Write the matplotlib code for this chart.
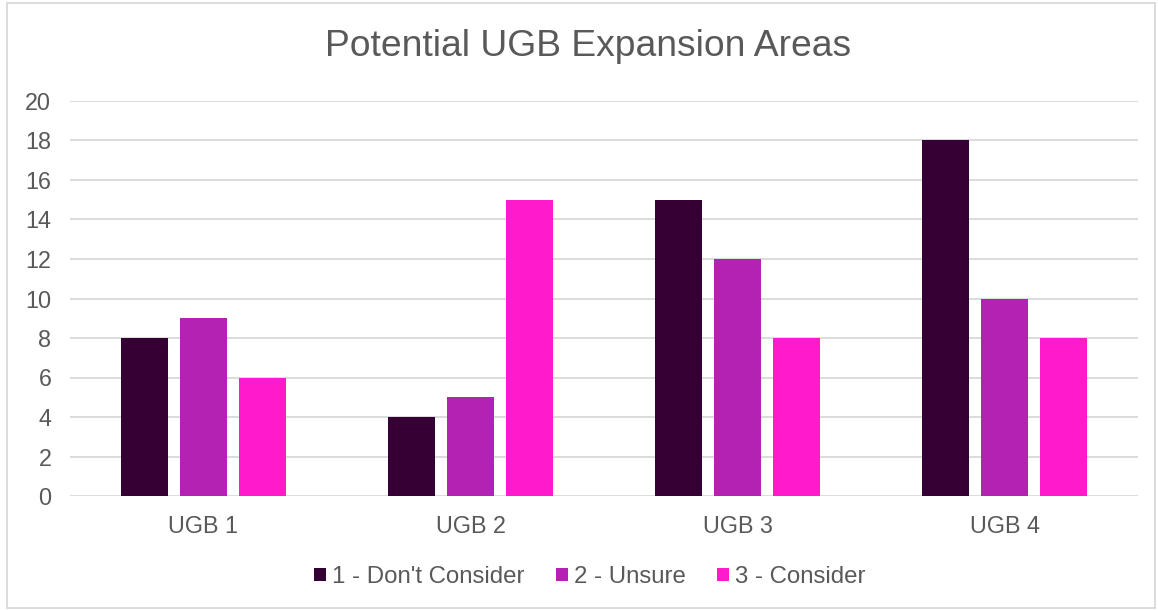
import matplotlib.pyplot as plt
import matplotlib.patches as mpatches
import numpy as np

plt.rcParams['font.family'] = ['Liberation Sans', 'DejaVu Sans']

# data
categories = ['UGB 1', 'UGB 2', 'UGB 3', 'UGB 4']
series_names = ["1 - Don't Consider", '2 - Unsure', '3 - Consider']
dont_consider = [8, 4, 15, 18]
unsure = [9, 5, 12, 10]
consider = [6, 15, 8, 8]
colors = ['#350033', '#B322B3', '#FF1ACB']

text_col = '#595959'

fig = plt.figure(figsize=(11.58, 6.1), dpi=100)
ax = fig.add_axes([70 / 1158, 1 - 496 / 610, (1138 - 70) / 1158, (496 - 101) / 610])

x = np.arange(len(categories))
width = 0.173
step = 0.221
for i, (vals, name) in enumerate(zip([dont_consider, unsure, consider], series_names)):
    ax.bar(x + (i - 1) * step, vals, width, color=colors[i], label=name, zorder=3)

ax.set_xlim(-0.5, len(categories) - 0.5)
ax.set_ylim(0, 20)
ax.set_yticks(range(0, 21, 2))
ax.set_xticks(x)
ax.set_xticklabels(categories)
ax.grid(axis='y', color='#D9D9D9', linewidth=1.3, zorder=0)
for s in ax.spines.values():
    s.set_visible(False)
ax.tick_params(axis='both', length=0, labelsize=16.8, colors=text_col)
ax.tick_params(axis='x', pad=13.5)
ax.tick_params(axis='y', pad=13.5)

fig.text(0.508, 1 - 47 / 610, 'Potential UGB Expansion Areas', ha='center', va='center',
         fontsize=26.8, color=text_col)

leg = fig.legend(loc='center', bbox_to_anchor=(0.5095, 1 - 577 / 610), ncol=3, frameon=False,
                 fontsize=17.3, handlelength=0.5, handleheight=0.5, handletextpad=0.25,
                 columnspacing=1.3, labelcolor=text_col)

# outer chart border
fig.patches.append(mpatches.Rectangle((7 / 1158, 2 / 610), 1148 / 1158, 605 / 610,
                                      transform=fig.transFigure, fill=False,
                                      edgecolor='#D9D9D9', linewidth=1.3))

fig.savefig('out.png', dpi=100)
